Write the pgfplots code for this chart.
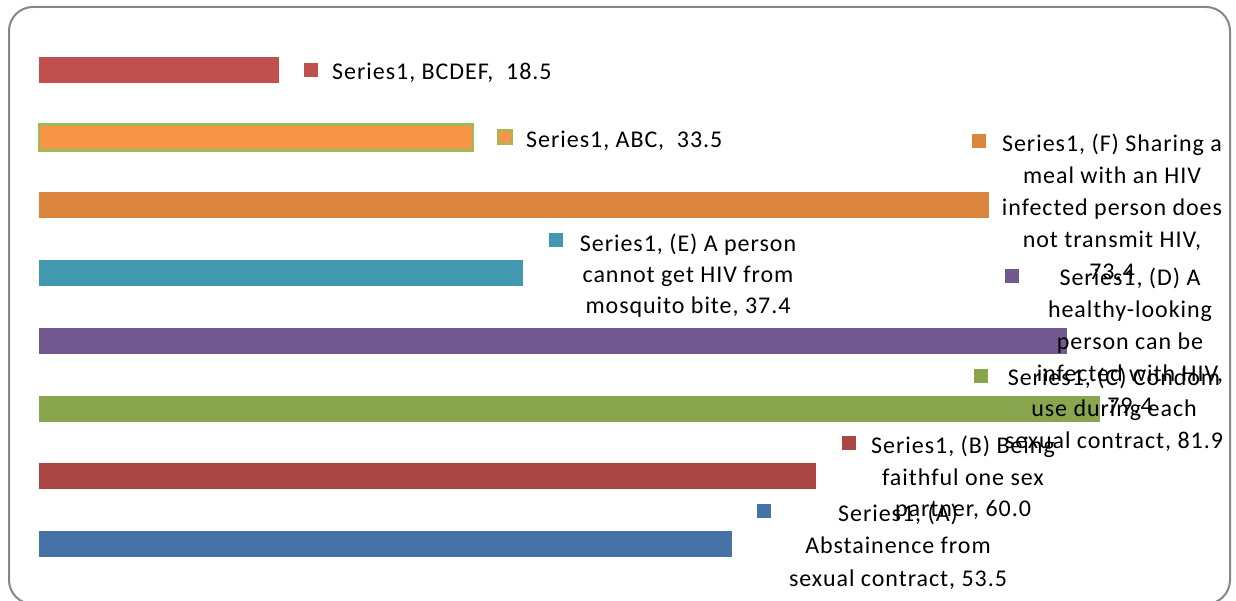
\documentclass[border=0pt]{standalone}
\usepackage{pgfplots}
\pgfplotsset{compat=1.18}
\usepackage{fontspec}
\setmainfont{Carlito}
\newfontfamily\lblfam{Carlito}[LetterSpace=4]
\newcommand\lf{\lblfam\fontsize{24bp}{32bp}\selectfont}
\definecolor{cA}{HTML}{4572A7}
\definecolor{cB}{HTML}{AA4643}
\definecolor{cC}{HTML}{89A54E}
\definecolor{cD}{HTML}{71588F}
\definecolor{cE}{HTML}{4198AF}
\definecolor{cF}{HTML}{DB843D}
\definecolor{cABC}{HTML}{F79646}
\definecolor{cABCb}{HTML}{9BBB59}
\definecolor{cBCDEF}{HTML}{C0504D}
\definecolor{framegray}{HTML}{868686}
% centred line: x centre, baseline (pixels from top)
\newcommand\ctr[3]{\node[anchor=base, inner sep=0pt, font=\lf, text=black] at (#1bp,601bp-#2bp) {#3};}
\newcommand\lft[3]{\node[anchor=base west, inner sep=0pt, font=\lf, text=black] at (#1bp,601bp-#2bp) {#3};}
\newcommand\mk[3]{\fill[#3] (#1bp-7bp,601bp-#2bp-7bp) rectangle (#1bp+7bp,601bp-#2bp+7bp);}
\begin{document}
\begin{tikzpicture}
\useasboundingbox (0,0) rectangle (1236bp,601bp);
\draw[framegray, line width=2bp, rounded corners=24bp] (9bp,594bp) rectangle (1230bp,-3bp);
\begin{axis}[at={(39bp,23.14bp)}, anchor=south west, scale only axis,
  width=1165.5bp, height=541.68bp, xmin=0, xmax=90, ymin=-0.5, ymax=7.5,
  hide axis, clip=false]
\addplot[xbar, bar shift=0pt, bar width=26bp, fill=cA, draw=none] coordinates {(53.5,0)};
\addplot[xbar, bar shift=0pt, bar width=26bp, fill=cB, draw=none] coordinates {(60.0,1)};
\addplot[xbar, bar shift=0pt, bar width=26bp, fill=cC, draw=none] coordinates {(81.9,2)};
\addplot[xbar, bar shift=0pt, bar width=26bp, fill=cD, draw=none] coordinates {(79.4,3)};
\addplot[xbar, bar shift=0pt, bar width=26bp, fill=cE, draw=none] coordinates {(37.4,4)};
\addplot[xbar, bar shift=0pt, bar width=26bp, fill=cF, draw=none] coordinates {(73.4,5)};
\addplot[xbar, bar shift=0pt, bar width=26bp, fill=cABC, draw=cABCb, line width=2.5bp] coordinates {(33.5,6)};
\addplot[xbar, bar shift=0pt, bar width=26bp, fill=cBCDEF, draw=none] coordinates {(18.5,7)};
\end{axis}
% BCDEF
\mk{311}{70}{cBCDEF}
\lft{332}{80}{Series1, BCDEF,\ \ 18.5}
% ABC
\fill[cABC, draw=cABCb, line width=2bp] (498bp,601bp-144bp) rectangle (512bp,601bp-130bp);
\lft{526}{148}{Series1, ABC,\ \ 33.5}
% F
\mk{979}{141}{cF}
\ctr{1112}{152}{Series1, (F) Sharing a}
\ctr{1112}{184}{meal with an HIV}
\ctr{1112}{216}{infected person does}
\ctr{1112}{248}{not transmit HIV,}
\ctr{1112}{280}{73.4}
% E
\mk{556}{240}{cE}
\ctr{688}{252}{Series1, (E) A person}
\ctr{688}{283}{cannot get HIV from}
\ctr{688}{314}{mosquito bite, 37.4}
% D
\mk{1012}{276}{cD}
\ctr{1130}{286}{Series1, (D) A}
\ctr{1130}{318}{healthy-looking}
\ctr{1130}{350}{person can be}
\ctr{1130}{382}{infected with HIV,}
\ctr{1130}{414}{79.4}
% C
\mk{981}{376}{cC}
\ctr{1114}{386}{Series1, (C) Condom}
\ctr{1114}{417}{use during each}
\ctr{1114}{449}{sexual contract, 81.9}
% B
\mk{849}{443}{cB}
\ctr{963}{454}{Series1, (B) Being}
\ctr{963}{486}{faithful one sex}
\ctr{963}{517}{partner, 60.0}
% A
\mk{764}{511}{cA}
\ctr{898}{522}{Series1, (A)}
\ctr{898}{554}{Abstainence from}
\ctr{898}{586}{sexual contract, 53.5}
\end{tikzpicture}
\end{document}
